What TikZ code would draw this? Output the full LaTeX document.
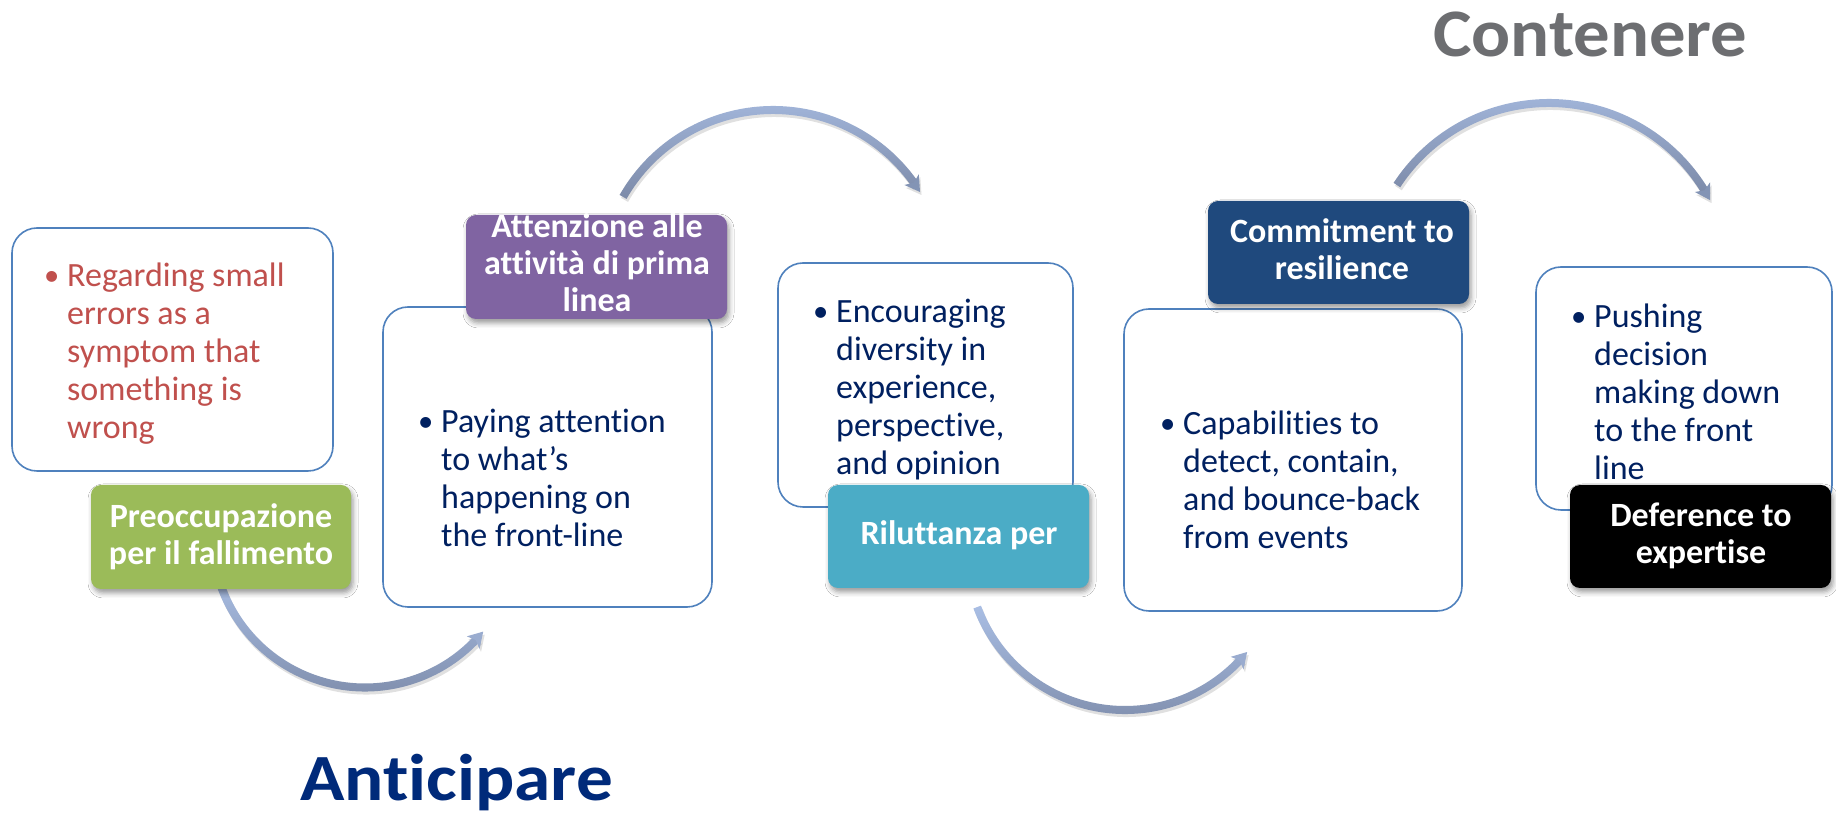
\documentclass[tikz,border=0pt]{standalone}
\usepackage{fontspec}
\usepackage{graphicx}
\setmainfont{Carlito}[Ligatures=NoCommon]
\usetikzlibrary{calc,shadows.blur}

\definecolor{boxline}{HTML}{4F81BD}
\definecolor{bodyblue}{HTML}{002060}
\definecolor{bodyred}{HTML}{C0504D}
\definecolor{tagGreen}{HTML}{9BBB59}
\definecolor{tagPurple}{HTML}{8064A2}
\definecolor{tagTeal}{HTML}{4BACC6}
\definecolor{tagNavy}{HTML}{1F497D}
\definecolor{titleblue}{HTML}{002A7A}
\definecolor{titlegray}{HTML}{6D6E71}
\definecolor{arrowlight}{HTML}{A9BEE4}
\definecolor{arrowdark}{HTML}{7C8AA8}
\definecolor{headlow}{HTML}{8394B5}
\definecolor{headhigh}{HTML}{9AACCF}

% stacked lines: left aligned and centred, first baseline is the box baseline
\newcommand\leftlines[1]{\vtop{\halign{##\hfil\cr#1\crcr}}}
\newcommand\midlines[1]{\vtop{\halign{\hfil##\hfil\cr#1\crcr}}}
\newcommand\bul{\llap{\makebox[23pt][l]{\raisebox{1pt}{\scalebox{0.9}{•}}}}}

% thick curved arrow: centre, radius, start angle, end angle, head colour
\newcommand\bentarrow[5]{%
  \pgfmathsetmacro\aRo{#2+4}%
  \pgfmathsetmacro\aRi{#2-4}%
  \pgfmathsetmacro\aSg{(#4>#3)?1:-1}%
  \pgfmathsetmacro\aDl{15/#2*57.2958}%
  \pgfmathsetmacro\aSe{#4-\aSg*\aDl*0.6}%
  \pgfmathsetmacro\aHb{#4-\aSg*\aDl}%
  \pgfmathsetmacro\aHn{#4-\aSg*\aDl*0.75}%
  \pgfmathsetmacro\aHo{#2+9}%
  \pgfmathsetmacro\aHi{#2-9}%
  \begin{scope}[transform canvas={xshift=1.5pt,yshift=-3pt}]
    \fill[black,opacity=0.12] ($(#1)+(#3:\aRo)$) arc[start angle=#3,end angle=\aSe,radius=\aRo]
      -- ($(#1)+(\aSe:\aRi)$) arc[start angle=\aSe,end angle=#3,radius=\aRi] -- cycle;
    \fill[black,opacity=0.12] ($(#1)+(#4:#2)$) -- ($(#1)+(\aHb:\aHo)$) -- ($(#1)+(\aHn:#2)$) -- ($(#1)+(\aHb:\aHi)$) -- cycle;
  \end{scope}
  \shade[top color=arrowlight,bottom color=arrowdark] ($(#1)+(#3:\aRo)$) arc[start angle=#3,end angle=\aSe,radius=\aRo]
      -- ($(#1)+(\aSe:\aRi)$) arc[start angle=\aSe,end angle=#3,radius=\aRi] -- cycle;
  \fill[#5] ($(#1)+(#4:#2)$) -- ($(#1)+(\aHb:\aHo)$) -- ($(#1)+(\aHn:#2)$) -- ($(#1)+(\aHb:\aHi)$) -- cycle;
}

\tikzset{
  notebox/.style={draw=boxline, line width=1.6pt, fill=white, rounded corners=25pt,
    inner sep=0pt, outer sep=0pt},
  tagbox/.style={rounded corners=10pt, inner sep=0pt, outer sep=0pt,
    minimum width=261pt, minimum height=103pt,
    blur shadow={shadow xshift=2pt, shadow yshift=-4pt, shadow blur radius=5pt, shadow opacity=40}},
  bodytext/.style={font={\fontsize{34}{38}\selectfont}, inner sep=0pt, text=bodyblue, anchor=base west},
  tagtext/.style={font={\bfseries\fontsize{34}{37}\selectfont}, inner sep=0pt, text=white, anchor=base},
}

\begin{document}
\begin{tikzpicture}[x=1pt,y=1pt]
\useasboundingbox (0,0) rectangle (1836,819);
\fill[white] (0,0) rectangle (1836,819);

% curved arrows between the stages
\coordinate (cA) at (365,284.5);
\coordinate (cB) at (1125,266.6);
\coordinate (cC) at (773,536.2);
\coordinate (cD) at (1549,534);
\bentarrow{cA}{153}{-165}{-39.4}{headhigh}
\bentarrow{cB}{157.6}{-159.7}{-39.2}{headhigh}
\bentarrow{cC}{172.8}{150.2}{31.7}{headlow}
\bentarrow{cD}{182}{146.7}{27.8}{headlow}

% description boxes
\node[notebox, minimum width=321pt, minimum height=243pt] (b1) at (172.5,469.5) {};
\node[notebox, minimum width=329pt, minimum height=300pt] (b2) at (547.5,362) {};
\node[notebox, minimum width=295pt, minimum height=244pt] (b3) at (925.5,434) {};
\node[notebox, minimum width=338pt, minimum height=302pt] (b4) at (1293,359) {};
\node[notebox, minimum width=296pt, minimum height=243pt] (b5) at (1684,430.5) {};

\node[bodytext, text=bodyred] (t1) at (67,532)
  {\leftlines{\bul Regarding small\cr errors as a\cr symptom that\cr something is\cr wrong}};
\node[bodytext] (t2) at (441,386)
  {\leftlines{\bul Paying attention\cr to what’s\cr happening on\cr the front-line}};
\node[bodytext] (t3) at (836,496)
  {\leftlines{\bul Encouraging\cr diversity in\cr experience,\cr perspective,\cr and opinion}};
\node[bodytext] (t4) at (1183,384)
  {\leftlines{\bul Capabilities to\cr detect, contain,\cr and bounce-back\cr from events}};
\node[bodytext] (t5) at (1594,491)
  {\leftlines{\bul Pushing\cr decision\cr making down\cr to the front\cr line}};

% coloured tags
\node[tagbox, fill=tagGreen, minimum width=260pt, minimum height=104pt] (g1) at (221,282) {};
\node[tagbox, fill=tagPurple, minimum height=104pt] (g2) at (596.5,552) {};
\node[tagbox, fill=tagTeal] (g3) at (958.5,282.5) {};
\node[tagbox, fill=tagNavy] (g4) at (1338.5,566.5) {};
\node[tagbox, fill=black] (g5) at (1700.5,282.5) {};

\node[tagtext] (l1) at (221,291) {\midlines{Preoccupazione\cr per il fallimento}};
\node[tagtext] (l2) at (597,581) {\midlines{Attenzione alle\cr attività di prima\cr linea}};
\node[tagtext] (l3) at (959,274) {\midlines{Riluttanza per}};
\node[tagtext] (l4) at (1342,576) {\midlines{Commitment to\cr resilience}};
\node[tagtext] (l5) at (1701,292) {\midlines{Deference to\cr expertise}};

% phase titles
\node[anchor=base west, inner sep=0pt, text=titleblue, font={\bfseries\fontsize{66}{70}\selectfont}]
  (ant) at (300,19) {\scalebox{1.11}[1]{Anticipare}};
\node[anchor=base west, inner sep=0pt, text=titlegray, font={\bfseries\fontsize{68}{72}\selectfont}]
  (con) at (1433,762) {\scalebox{1.07}[1]{Contenere}};
\end{tikzpicture}
\end{document}
